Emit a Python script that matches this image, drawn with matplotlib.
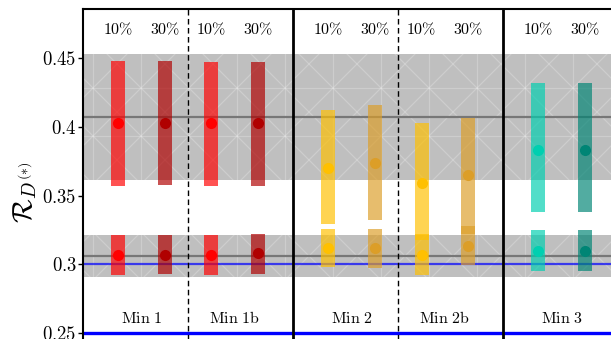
import matplotlib
matplotlib.use("Agg")
import matplotlib.pyplot as plt
from matplotlib.transforms import IdentityTransform
import numpy as np

plt.rcParams['mathtext.fontset'] = 'cm'
plt.rcParams['font.family'] = ['DejaVu Serif']

# ---------------- data ----------------
x_pos = [1, 2, 3, 4, 5.5, 6.5, 7.5, 8.5, 10, 11]
pct_labels = ['10%', '30%', '10%', '30%', '10%', '30%', '10%', '30%', '10%', '30%']
bar_colors = ['#ff0000', '#b00000', '#ff0000', '#b00000',
              '#ffc000', '#dc9e28', '#ffc000', '#dc9e28',
              '#00cfb0', '#008575']

RD_central = [0.403, 0.403, 0.403, 0.403, 0.370, 0.374, 0.359, 0.365, 0.383, 0.383]
RD_low = [0.357, 0.358, 0.357, 0.357, 0.329, 0.332, 0.318, 0.322, 0.338, 0.338]
RD_high = [0.448, 0.448, 0.447, 0.447, 0.412, 0.416, 0.403, 0.406, 0.432, 0.432]

RDs_central = [0.307, 0.307, 0.307, 0.308, 0.312, 0.312, 0.307, 0.313, 0.310, 0.310]
RDs_low = [0.292, 0.293, 0.292, 0.293, 0.298, 0.297, 0.292, 0.2995, 0.295, 0.295]
RDs_high = [0.321, 0.321, 0.321, 0.322, 0.326, 0.326, 0.322, 0.328, 0.325, 0.325]

group_names = ['Min 1', 'Min 1b', 'Min 2', 'Min 2b', 'Min 3']
group_label_x = [1.5, 3.5, 6.0, 8.0, 10.5]
solid_sep = [4.75, 9.25]
dashed_sep = [2.5, 7.0]

RD_exp, RD_exp_err = 0.407, 0.046
RDs_exp, RDs_exp_err = 0.306, 0.015
SM_lines = [0.300, 0.250]

yticks = [0.25, 0.30, 0.35, 0.40, 0.45]
ytick_labels = ['0.25', '0.3', '0.35', '0.4', '0.45']

# ---------------- figure ----------------
W, H = 611, 339
fig = plt.figure(figsize=(W / 100, H / 100), dpi=100)
ax = fig.add_axes([0.1358, -0.0233, 0.9172, 0.9965])
ax.set_xlim(0.25, 12.25)
ax.set_ylim(0.24, 0.4855)

# experimental bands
bands = []
for c, e in [(RD_exp, RD_exp_err), (RDs_exp, RDs_exp_err)]:
    b = ax.axhspan(c - e, c + e, color='#bfbfbf', lw=0, zorder=1)
    bands.append(b)
    ax.axhline(c, color='#777777', lw=1.6, zorder=2)

# light hatch-like texture inside bands (display pixel coordinates)
step = 48
x0, y0 = 525, H - 88
for b in bands:
    segs = []
    for k in range(-20, 20):
        xv = x0 + k * step
        segs.append(([xv, xv], [-50, H + 50]))
        yv = y0 + k * step
        segs.append(([-50, W + 50], [yv, yv]))
    for k in range(-40, 40):
        c = (y0 - x0) + k * step
        segs.append(([-50, W + 50], [-50 + c, W + 50 + c]))
        c2 = (y0 + x0) + k * step
        segs.append(([-50, W + 50], [c2 + 50, c2 - W - 50]))
    for xs, ys in segs:
        ln, = ax.plot(xs, ys, color='white', alpha=0.22, lw=0.9,
                      transform=IdentityTransform(), zorder=1.5)
        ln.set_clip_path(b)

# SM lines
ax.axhline(SM_lines[0], color='blue', alpha=0.7, lw=1.6, zorder=2)
ax.axhline(SM_lines[1], color='blue', lw=2.4, zorder=2)

# bars and points
bw = 0.3
for i, x in enumerate(x_pos):
    col = bar_colors[i]
    ax.bar(x, RD_high[i] - RD_low[i], bottom=RD_low[i], width=bw,
           color=col, alpha=0.68, lw=0, zorder=3)
    ax.bar(x, RDs_high[i] - RDs_low[i], bottom=RDs_low[i], width=bw,
           color=col, alpha=0.68, lw=0, zorder=3)
    ax.plot([x, x], [RD_central[i], RDs_central[i]], 'o', color=col,
            ms=8, mec='none', zorder=4)
    ax.text(x, 0.4703, r'$' + pct_labels[i].replace('%', r'\%') + '$',
            ha='center', va='center', fontsize=11.5)

for name, gx in zip(group_names, group_label_x):
    ax.text(gx, 0.2603, r'$\mathrm{' + name.replace(' ', r'\ ') + '}$',
            ha='center', va='center', fontsize=11.5)

for s in solid_sep:
    ax.axvline(s, color='black', lw=2, zorder=5)
for d in dashed_sep:
    ax.axvline(d, color='black', lw=1, ls=(0, (4, 2.5)), zorder=5)

ax.set_yticks(yticks)
ax.set_yticklabels(['$' + t + '$' for t in ytick_labels], fontsize=13.5)
ax.set_xticks([])
ax.tick_params(axis='y', direction='out', length=3.5, width=1, pad=1,
               left=True, right=False)
for sp in ['left', 'top']:
    ax.spines[sp].set_linewidth(1.5)
ax.spines['right'].set_visible(False)

fig.text(25 / W, 1 - 192 / H, r'$\mathcal{R}_{D^{(*)}}$', rotation=90,
         ha='center', va='center', fontsize=20)

fig.savefig('out.png', dpi=100)
